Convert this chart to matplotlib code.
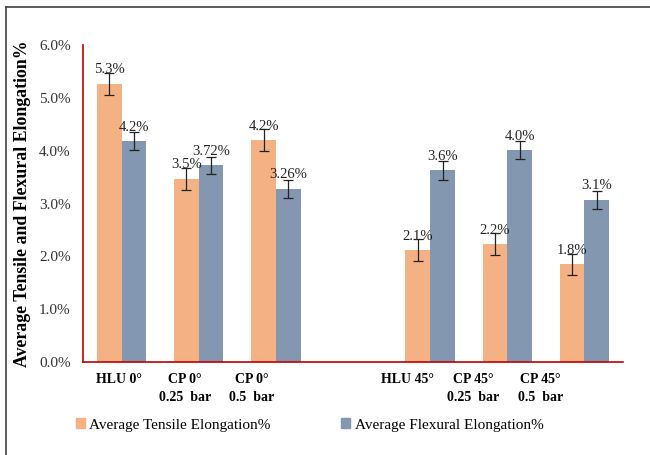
import matplotlib
matplotlib.use("Agg")
import matplotlib.pyplot as plt
import numpy as np
from matplotlib.lines import Line2D
from matplotlib.patches import Patch

plt.rcParams["font.family"] = ["Liberation Serif", "DejaVu Serif"]

CATEGORIES = ["HLU 0\u00b0", "CP 0\u00b0\n0.25  bar", "CP 0\u00b0\n0.5  bar", "",
              "HLU 45\u00b0", "CP 45\u00b0\n0.25  bar", "CP 45\u00b0\n0.5  bar"]
TENSILE = [5.27, 3.47, 4.20, np.nan, 2.12, 2.23, 1.85]
FLEXURAL = [4.18, 3.72, 3.28, np.nan, 3.63, 4.01, 3.07]
TENSILE_ERR = [0.21, 0.21, 0.21, np.nan, 0.20, 0.21, 0.20]
FLEXURAL_ERR = [0.17, 0.17, 0.17, np.nan, 0.18, 0.17, 0.17]
TENSILE_LABELS = ["5.3%", "3.5%", "4.2%", "", "2.1%", "2.2%", "1.8%"]
FLEXURAL_LABELS = ["4.2%", "3.72%", "3.26%", "", "3.6%", "4.0%", "3.1%"]

ORANGE = "#F4B183"
BLUE = "#8497B0"
RED = "#C00000"

# the category labels in the source sit a little left of their bar pairs
LABEL_SHIFT = [-0.03, -0.18, -0.31, 0.0, -0.29, -0.44, -0.57]

fig = plt.figure(figsize=(6.5, 4.55), dpi=100)
ax = fig.add_axes([0.1277, 0.2044, 0.8308, 0.6966])

x = np.arange(len(CATEGORIES))
w = 0.32
err_kw = {"elinewidth": 0.9, "capthick": 0.9, "ecolor": "#222222"}
ax.bar(x - w / 2, TENSILE, width=w, color=ORANGE, yerr=TENSILE_ERR,
       capsize=3.5, error_kw=err_kw)
ax.bar(x + w / 2, FLEXURAL, width=w, color=BLUE, yerr=FLEXURAL_ERR,
       capsize=3.5, error_kw=err_kw)

for xi, v, lab in zip(x, TENSILE, TENSILE_LABELS):
    if lab:
        ax.annotate(lab, (xi - w / 2, v), xytext=(0, 10), textcoords="offset points",
                    ha="center", va="center", fontsize=10.5, color="#222222")
for xi, v, lab in zip(x, FLEXURAL, FLEXURAL_LABELS):
    if lab:
        ax.annotate(lab, (xi + w / 2, v), xytext=(0, 10), textcoords="offset points",
                    ha="center", va="center", fontsize=10.5, color="#222222")

ax.set_xlim(-0.5, len(CATEGORIES) - 0.5)
ax.set_ylim(0, 6.0)
ax.set_yticks(np.arange(0, 6.01, 1.0))
ax.set_yticklabels([f"{t:.1f}%" for t in np.arange(0, 6.01, 1.0)], fontsize=11, color="#333333")
ax.set_xticks(x + np.array(LABEL_SHIFT))
ax.set_xticklabels(CATEGORIES, fontsize=10, fontweight="bold", linespacing=1.45)
ax.tick_params(axis="both", length=0)
ax.tick_params(axis="y", pad=9)
ax.tick_params(axis="x", pad=8)
for s in ["top", "right"]:
    ax.spines[s].set_visible(False)
for s in ["left", "bottom"]:
    ax.spines[s].set_color(RED)
    ax.spines[s].set_linewidth(1.2)

ax.set_ylabel("Average Tensile and Flexural Elongation%", fontsize=12.8,
              fontweight="bold", labelpad=6)

handles = [Patch(color=ORANGE), Patch(color=BLUE)]
fig.legend(handles, ["Average Tensile Elongation%", "Average Flexural Elongation%"],
           loc="center left", bbox_to_anchor=(0.095, 0.066), ncol=2, frameon=False,
           fontsize=11, handlelength=0.6, handleheight=0.6, handletextpad=0.3,
           columnspacing=4.6)

# figure frame (top and left edges visible)
fig.add_artist(Line2D([6 / 650, 1], [1 - 7 / 455, 1 - 7 / 455], color="#404040", lw=1.2))
fig.add_artist(Line2D([6 / 650, 6 / 650], [0, 1 - 7 / 455], color="#404040", lw=1.2))

fig.savefig("out.png", dpi=100)
